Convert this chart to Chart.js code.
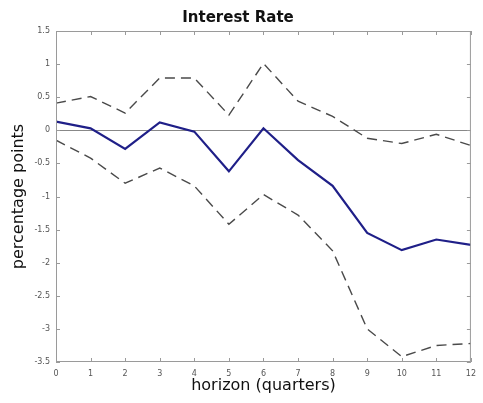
<!DOCTYPE html>
<html>
<head>
<meta charset="utf-8">
<script src="https://cdn.jsdelivr.net/npm/chart.js@4"></script>
<style>
    html, body { margin: 0; padding: 0; background: #fff; }
    #wrap { width: 483px; height: 403px; }
</style>
</head>
<body>
<div id="wrap"><canvas id="irf_chart" width="483" height="403"></canvas></div>
<script>
// horizon (quarters)
var horizon = [0, 1, 2, 3, 4, 5, 6, 7, 8, 9, 10, 11, 12];
// point estimate and bands
var irf_mid = [0.13, 0.03, -0.28, 0.12, -0.02, -0.62, 0.03, -0.45, -0.84, -1.55, -1.81, -1.65, -1.73];
var irf_upper = [0.41, 0.51, 0.26, 0.79, 0.79, 0.23, 1.01, 0.44, 0.21, -0.12, -0.2, -0.06, -0.23];
var irf_lower = [-0.15, -0.42, -0.8, -0.57, -0.84, -1.42, -0.97, -1.28, -1.82, -3.0, -3.42, -3.25, -3.22];
var y_ticks = [1.5, 1, 0.5, 0, -0.5, -1, -1.5, -2, -2.5, -3, -3.5];

function toPoints(arr) {
    return arr.map(function (v, i) { return { x: horizon[i], y: v }; });
}

// box + inward tick marks like matlab
var frameBox = {
    id: 'frameBox',
    afterDraw: function (chart) {
        var ctx = chart.ctx;
        var a = chart.chartArea;
        var x = chart.scales.x, y = chart.scales.y;
        ctx.save();
        ctx.strokeStyle = '#9a9a9a';
        ctx.lineWidth = 1;
        ctx.strokeRect(a.left + 0.5, a.top + 0.5, a.right - a.left - 1, a.bottom - a.top - 1);
        ctx.beginPath();
        horizon.forEach(function (h) {
            var px = Math.round(x.getPixelForValue(h)) + 0.5;
            ctx.moveTo(px, a.bottom); ctx.lineTo(px, a.bottom - 4);
            ctx.moveTo(px, a.top); ctx.lineTo(px, a.top + 4);
        });
        y_ticks.forEach(function (t) {
            var py = Math.round(y.getPixelForValue(t)) + 0.5;
            ctx.moveTo(a.left, py); ctx.lineTo(a.left + 4, py);
            ctx.moveTo(a.right, py); ctx.lineTo(a.right - 4, py);
        });
        ctx.stroke();
        ctx.restore();
    }
};

var irf_config = {
    type: 'line',
    data: {
        datasets: [
            {
                label: 'upper',
                data: toPoints(irf_upper),
                borderColor: '#4a4a4a',
                borderWidth: 1.4,
                borderDash: [10, 6],
                fill: false
            },
            {
                label: 'lower',
                data: toPoints(irf_lower),
                borderColor: '#4a4a4a',
                borderWidth: 1.4,
                borderDash: [10, 6],
                fill: false
            },
            {
                label: 'irf',
                data: toPoints(irf_mid),
                borderColor: '#1f1f88',
                borderWidth: 2.2,
                fill: false
            }
        ]
    },
    plugins: [frameBox],
    options: {
        responsive: false,
        animation: false,
        layout: { padding: { left: 0, right: 7, top: 0, bottom: 0 } },
        elements: {
            line: { tension: 0 },
            point: { radius: 0 }
        },
        plugins: {
            legend: { display: false },
            tooltip: { enabled: false },
            title: {
                display: true,
                text: 'Interest Rate',
                color: '#111',
                font: { family: 'DejaVu Sans', size: 15, weight: 'bold' },
                padding: { top: 9, bottom: 4 }
            }
        },
        scales: {
            x: {
                type: 'linear',
                min: 0,
                max: 12,
                afterFit: function (s) { s.height = 41; },
                afterBuildTicks: function (s) {
                    s.ticks = horizon.map(function (h) { return { value: h }; });
                },
                grid: { display: false, drawTicks: false },
                border: { display: false },
                ticks: {
                    color: '#555',
                    font: { family: 'DejaVu Sans', size: 8 },
                    padding: 7,
                    maxRotation: 0,
                    autoSkip: false
                },
                title: {
                    display: true,
                    text: 'horizon (quarters)',
                    color: '#111',
                    font: { family: 'DejaVu Sans', size: 16 },
                    padding: { top: 0, bottom: 8 }
                }
            },
            y: {
                min: -3.5,
                max: 1.5,
                afterFit: function (s) { s.width = 56; },
                afterBuildTicks: function (s) {
                    s.ticks = y_ticks.map(function (t) { return { value: t }; });
                },
                grid: {
                    drawTicks: false,
                    color: function (c) { return c.tick && c.tick.value === 0 ? '#888' : 'rgba(0,0,0,0)'; },
                    lineWidth: 1
                },
                border: { display: false },
                ticks: {
                    color: '#555',
                    font: { family: 'DejaVu Sans', size: 8 },
                    padding: 6,
                    autoSkip: false,
                    callback: function (v) { return String(v); }
                },
                title: {
                    display: true,
                    text: 'percentage points',
                    color: '#111',
                    font: { family: 'DejaVu Sans', size: 16 },
                    padding: { top: 9, bottom: 0 }
                }
            }
        }
    }
};

var irf_chart = new Chart(document.getElementById('irf_chart'), irf_config);
</script>
</body>
</html>
